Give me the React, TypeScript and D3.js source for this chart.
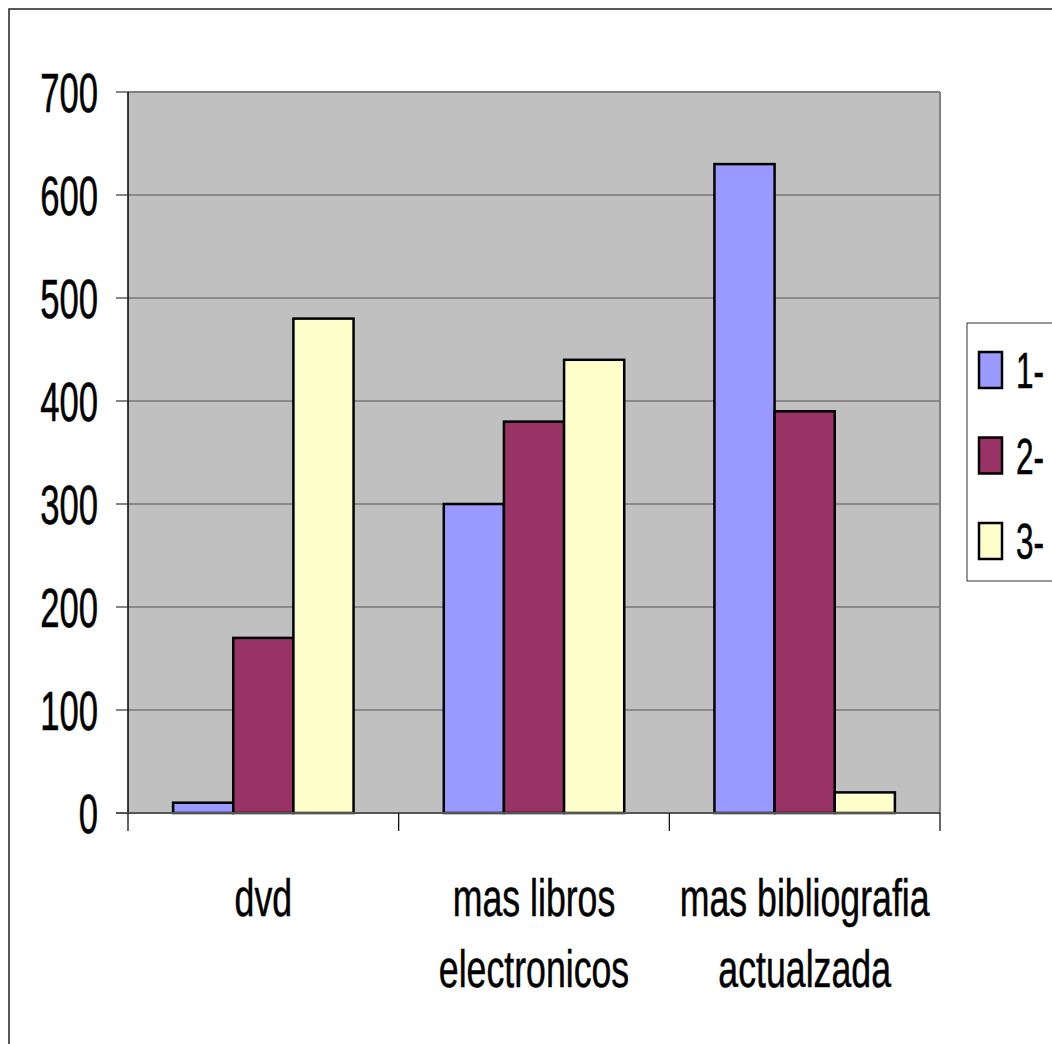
import React from 'react';
import * as d3 from 'd3';

const categories = [['dvd'], ['mas libros', 'electronicos'], ['mas bibliografia', 'actualzada']];
const seriesNames = ['1-', '2-', '3-'];
const seriesColors = ['#9999FF', '#993366', '#FFFFCC'];
const series1 = [10, 300, 630];
const series2 = [170, 380, 390];
const series3 = [480, 440, 20];
const yTicks = [0, 100, 200, 300, 400, 500, 600, 700];

const W = 1052;
const H = 1044;
const plot = { left: 128, top: 92, right: 940, bottom: 813 };

const App: React.FC = () => {
  const seriesValues = [series1, series2, series3];

  const x = d3
    .scaleBand<number>()
    .domain(categories.map((_, i) => i))
    .range([plot.left, plot.right])
    .paddingInner(0)
    .paddingOuter(0);

  const y = d3.scaleLinear().domain([0, 700]).range([plot.bottom, plot.top]);

  // excel style: gap width 150% of a bar
  const barW = x.bandwidth() / (seriesValues.length + 1.5);
  const groupOffset = barW * 0.75;

  const catBounds = [...categories.map((_, i) => x(i) as number), plot.right];

  const font = '"Liberation Sans", Arial, sans-serif';

  return (
    <svg
      width={W}
      height={H}
      style={{ position: 'absolute', left: 0, top: 0, background: '#fff' }}
      fontFamily={font}
    >
      {/* chart area border */}
      <rect x={9} y={9} width={W + 20} height={H + 20} fill="#fff" stroke="#222" strokeWidth={1.5} />

      {/* plot background */}
      <rect
        x={plot.left}
        y={plot.top}
        width={plot.right - plot.left}
        height={plot.bottom - plot.top}
        fill="#C0C0C0"
      />

      {/* gridlines */}
      {yTicks.slice(1).map((t) => (
        <line key={t} x1={plot.left} x2={plot.right} y1={y(t)} y2={y(t)} stroke="#555" strokeWidth={1} />
      ))}
      <line x1={plot.left} x2={plot.right} y1={plot.top} y2={plot.top} stroke="#808080" strokeWidth={2} />
      <line x1={plot.right} x2={plot.right} y1={plot.top} y2={plot.bottom} stroke="#808080" strokeWidth={2} />

      {/* bars */}
      {seriesValues.map((vals, s) =>
        vals.map((v, i) => (
          <rect
            key={`${s}-${i}`}
            x={(x(i) as number) + groupOffset + s * barW}
            y={y(v)}
            width={barW}
            height={y(0) - y(v)}
            fill={seriesColors[s]}
            stroke="#000"
            strokeWidth={2.5}
          />
        ))
      )}

      {/* y axis */}
      <line x1={plot.left} x2={plot.left} y1={plot.top} y2={plot.bottom} stroke="#000" strokeWidth={1.5} />
      {yTicks.map((t) => (
        <g key={t}>
          <line x1={116} x2={plot.left} y1={y(t)} y2={y(t)} stroke="#333" strokeWidth={1.2} />
          <text
            transform={`translate(98, ${y(t)}) scale(0.63, 1)`}
            textAnchor="end"
            dy="0.36em"
            fontSize={55}
            fill="#000"
            stroke="#000"
            strokeWidth={0.6}
          >
            {t}
          </text>
        </g>
      ))}

      {/* x axis */}
      <line x1={116} x2={plot.right} y1={plot.bottom} y2={plot.bottom} stroke="#555" strokeWidth={2} />
      {catBounds.map((b, i) => (
        <line key={i} x1={b} x2={b} y1={plot.bottom} y2={831} stroke="#000" strokeWidth={1.2} />
      ))}
      {categories.map((lines, i) => (
        <g key={i} transform={`translate(${(x(i) as number) + x.bandwidth() / 2}, 916)`}>
          {lines.map((l, j) => (
            <text
              key={j}
              transform={`translate(0, ${j * 71}) scale(0.7, 1)`}
              textAnchor="middle"
              fontSize={51}
              fill="#000"
              stroke="#000"
              strokeWidth={0.5}
            >
              {l}
            </text>
          ))}
        </g>
      ))}

      {/* legend */}
      <rect x={967} y={323} width={120} height={258} fill="#fff" stroke="#333" strokeWidth={1} />
      {seriesNames.map((n, i) => {
        const cy = 370 + i * 85.5;
        return (
          <g key={n}>
            <rect x={979} y={cy - 18} width={23} height={36} fill={seriesColors[i]} stroke="#000" strokeWidth={2.5} />
            <text
              transform={`translate(1016, ${cy + 18}) scale(0.63, 1)`}
              fontSize={50}
              fill="#000"
              stroke="#000"
              strokeWidth={0.6}
            >
              {n}
            </text>
          </g>
        );
      })}
    </svg>
  );
};

export default App;
